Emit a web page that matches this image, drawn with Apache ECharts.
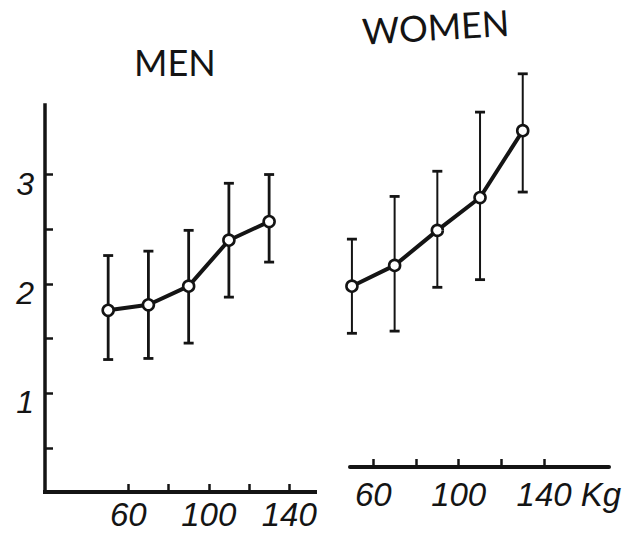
<!DOCTYPE html>
<html>
<head>
<meta charset="utf-8">
<script src="https://cdn.jsdelivr.net/npm/echarts@6/dist/echarts.min.js"></script>
<style>html,body{margin:0;padding:0;background:#fff;}#c{width:630px;height:539px;}</style>
</head>
<body>
<div id="c"></div>
<script>
// ---- data ----
const weightsMen = [50, 70, 90, 110, 130];
const menMean = [1.76, 1.81, 1.98, 2.40, 2.57];
const menLow = [1.31, 1.32, 1.46, 1.88, 2.20];
const menHigh = [2.26, 2.30, 2.49, 2.92, 3.00];

const weightsWomen = [50, 70, 90, 110, 130];
const womenMean = [1.98, 2.17, 2.49, 2.79, 3.40];
const womenLow = [1.55, 1.57, 1.97, 2.04, 2.84];
const womenHigh = [2.41, 2.80, 3.03, 3.57, 3.92];

const xTickValues = [60, 80, 100, 120, 140];
const xLabelValues = [60, 100, 140];
const yTickValues = [0.5, 1, 1.5, 2, 2.5, 3];
const yLabelValues = [1, 2, 3];
const panelTitles = ['MEN', 'WOMEN'];
const unitLabel = 'Kg';

// ---- chart ----
const chart = echarts.init(document.getElementById('c'), null, {renderer: 'svg'});
const INK = '#141414';
const digitFont = {fontFamily: 'Liberation Sans', fontStyle: 'italic', fontSize: 33, color: INK};

function pairs(xs, ys) { return xs.map((x, i) => [x, ys[i]]); }
function bars(xs, lo, hi) { return xs.map((x, i) => [x, lo[i], hi[i]]); }

function errorRender(stemWidth) {
  return function (params, api) {
    const x = api.value(0);
    const pLo = api.coord([x, api.value(1)]);
    const pHi = api.coord([x, api.value(2)]);
    const hw = 5;
    const st = {stroke: INK, lineWidth: stemWidth};
    const cap = {stroke: INK, lineWidth: 2.8};
    return {
      type: 'group',
      children: [
        {type: 'line', shape: {x1: pLo[0], y1: pLo[1], x2: pHi[0], y2: pHi[1]}, style: st},
        {type: 'line', shape: {x1: pLo[0] - hw, y1: pLo[1], x2: pLo[0] + hw, y2: pLo[1]}, style: cap},
        {type: 'line', shape: {x1: pHi[0] - hw, y1: pHi[1], x2: pHi[0] + hw, y2: pHi[1]}, style: cap}
      ]
    };
  };
}

function meanSeries(idx, data) {
  return {
    type: 'line', xAxisIndex: idx, yAxisIndex: idx, data: data, z: 5,
    symbol: 'circle', symbolSize: 11, clip: false,
    lineStyle: {color: INK, width: 4},
    itemStyle: {color: '#fff', borderColor: INK, borderWidth: 2.6},
    emphasis: {disabled: true}, animation: false
  };
}

const option = {
  animation: false,
  grid: [
    {left: 45, top: 105, width: 270, height: 387},
    {left: 350, top: 105, width: 259, height: 362}
  ],
  xAxis: [
    {
      gridIndex: 0, type: 'value', min: 18.6, max: 152.8,
      splitLine: {show: false},
      axisLine: {lineStyle: {color: INK, width: 4, cap: 'square'}},
      axisTick: {customValues: xTickValues, inside: true, length: 8, lineStyle: {color: INK, width: 2.5}},
      axisLabel: Object.assign({customValues: xLabelValues, margin: 6}, digitFont)
    },
    {
      gridIndex: 1, type: 'value', min: 49.1, max: 170.4,
      splitLine: {show: false},
      axisLine: {lineStyle: {color: INK, width: 4, cap: 'round'}},
      axisTick: {customValues: xTickValues, inside: true, length: 8, lineStyle: {color: INK, width: 2.5}},
      axisLabel: Object.assign({customValues: xLabelValues, margin: 11}, digitFont),
      name: unitLabel, nameLocation: 'end', nameGap: 12,
      nameTextStyle: Object.assign({}, digitFont, {align: 'right', verticalAlign: 'top', padding: [11, 0, 0, 0]})
    }
  ],
  yAxis: [
    {
      gridIndex: 0, type: 'value', min: 0.10, max: 3.635,
      splitLine: {show: false},
      axisLine: {lineStyle: {color: INK, width: 3.5, cap: 'square'}},
      axisTick: {customValues: yTickValues, inside: true, length: 8, lineStyle: {color: INK, width: 2.5}},
      axisLabel: Object.assign({customValues: yLabelValues, margin: 11, verticalAlign: 'top', lineHeight: 18}, digitFont, {fontSize: 32})
    },
    {
      gridIndex: 1, type: 'value', min: 0.329, max: 3.635, show: false,
      splitLine: {show: false}
    }
  ],
  graphic: [
    {type: 'text', left: 134, top: 44, style: {text: panelTitles[0], font: '400 36px Lato', fill: INK}},
    {type: 'text', left: 361, top: 4, rotation: 0.06, style: {text: panelTitles[1], font: '400 36px Lato', fill: INK, letterSpacing: 2}}
  ],
  series: [
    {type: 'custom', xAxisIndex: 0, yAxisIndex: 0, data: bars(weightsMen, menLow, menHigh), renderItem: errorRender(2.8), clip: false, z: 3},
    meanSeries(0, pairs(weightsMen, menMean)),
    {type: 'custom', xAxisIndex: 1, yAxisIndex: 1, data: bars(weightsWomen, womenLow, womenHigh), renderItem: errorRender(2), clip: false, z: 3},
    meanSeries(1, pairs(weightsWomen, womenMean))
  ]
};
chart.setOption(option);
</script>
</body>
</html>
